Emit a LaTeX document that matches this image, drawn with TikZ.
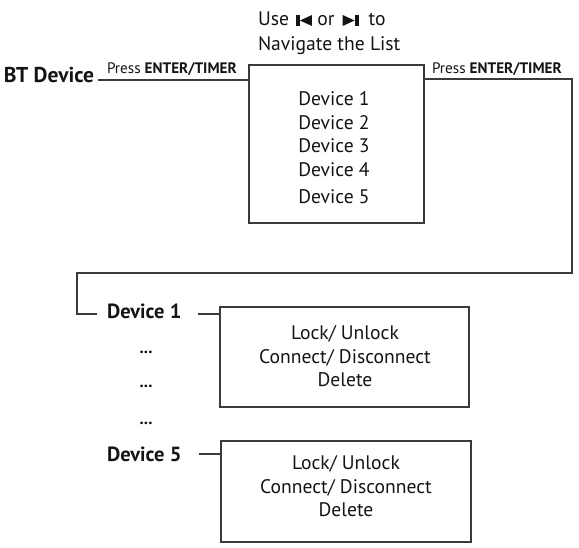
\documentclass[tikz,border=0pt]{standalone}
\usepackage{fontspec}
\setmainfont{PT Sans}
\definecolor{ink}{HTML}{141414}
\definecolor{edge}{HTML}{3A3A3A}
\begin{document}
\begin{tikzpicture}[x=1pt,y=-1pt,
  every node/.style={inner sep=0pt, outer sep=0pt, text=ink},
  big/.style={font=\fontsize{19.6}{23.5}\selectfont},
  bigb/.style={font=\fontsize{20.5}{24}\selectfont\bfseries},
  btb/.style={font=\fontsize{21.5}{24}\selectfont\bfseries},
  small/.style={font=\fontsize{15.2}{17}\selectfont},
  dotsty/.style={font=\fontsize{17}{18}\selectfont\bfseries},
  frame/.style={draw=edge, line width=1.8pt},
  wire/.style={draw=edge, line width=1.6pt},
]
\useasboundingbox (0,0) rectangle (579,548);

% title
\node[big, anchor=base west] (use) at (258,26) {Use};
\coordinate (i1) at ([xshift=7pt]use.base east);
\fill[ink] (i1) rectangle ++(4,-11);
\fill[ink] ([xshift=16pt]i1) -- ++(0,-11) -- ++(-12,5.5) -- cycle;
\node[big, anchor=base west] (or) at ([xshift=21.5pt]i1) {or};
\coordinate (i2) at ([xshift=8pt]or.base east);
\fill[ink] (i2) -- ++(0,-11) -- ++(12,5.5) -- cycle;
\fill[ink] ([xshift=12pt]i2) rectangle ++(4,-11);
\node[big, anchor=base west] (to) at ([xshift=26pt]i2) {to};
\node[big, anchor=base west] (nav) at (258,51) {Navigate the List};

% device list box
\node[frame, minimum width=175pt, minimum height=158pt] (list) at (336.5,144) {};
\node[big, align=center] (listtxt) at (334,147.4) {Device 1\\Device 2\\Device 3\\Device 4\\[3.5pt]Device 5};

% left label and wire
\node[btb, anchor=base west] (bt) at (4,82.5) {BT Device};
\node[small, anchor=base west] (pl) at (107,73.5) {Press \textbf{ENTER/TIMER}};
\coordinate (a1) at (98,80);
\draw[wire] (a1) -- (a1 -| list.west);

% right label and long wire
\node[small, anchor=base west] (pr) at (432,73.5) {Press \textbf{ENTER/TIMER}};
\coordinate (r1) at (572,79);
\coordinate (r2) at (572,273);
\coordinate (r3) at (77,273);
\coordinate (r4) at (77,314);
\coordinate (r5) at (97,314);
\draw[wire] (list.east |- r1) -- (r1) -- (r2) -- (r3) -- (r4) -- (r5);

% device 1
\node[bigb, anchor=base west] (d1) at (107,318.5) {Device 1};
\node[frame, minimum width=249pt, minimum height=100pt] (opts1) at (344.5,357) {};
\node[big, align=center] (opts1txt) at (345,356.2) {Lock/ Unlock\\Connect/ Disconnect\\Delete};
\coordinate (k1) at (198,314);
\draw[wire] (k1) -- (k1 -| opts1.west);

% dots
\node[dotsty] (e1) at (146,352) {...};
\node[dotsty] (e2) at (146,386) {...};
\node[dotsty] (e3) at (146,423) {...};

% device 5
\node[bigb, anchor=base west] (d5) at (107,461) {Device 5};
\node[frame, minimum width=250pt, minimum height=101pt] (opts5) at (346,491.5) {};
\node[big, align=center] (opts5txt) at (346,486.2) {Lock/ Unlock\\Connect/ Disconnect\\Delete};
\coordinate (k5) at (199,454);
\draw[wire] (k5) -- (k5 -| opts5.west);
\end{tikzpicture}
\end{document}
